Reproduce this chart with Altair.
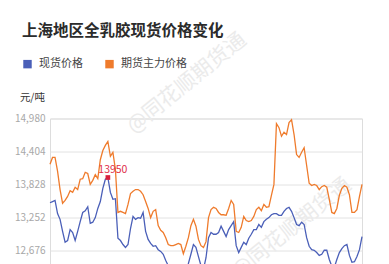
import altair as alt
import pandas as pd

title_text = "上海地区全乳胶现货价格变化"
unit_text = "元/吨"
series_names = ["现货价格", "期货主力价格"]
watermark_text = "@同花顺期货通"

spot = [13510, 13530, 13550, 13320, 13220, 13010, 12820, 12850, 13040, 12990,
        12850, 13010, 13180, 13340, 13370, 13440, 13150, 13170, 13250, 13410,
        13530, 13760, 13920, 13950, 13690, 13570, 13580, 12890, 12850, 12780,
        12730, 12780, 13060, 13270, 13220, 13250, 13240, 13340, 13010, 12870,
        12800, 12750, 12760, 12690, 12660, 12610, 12500, 12410, 12350, 12290,
        12260, 12310, 12240, 12200, 12310, 12450, 12610, 12780, 12730, 12570,
        12410, 12350, 12550, 12900, 12990, 12960, 12960, 12990, 13100, 13010,
        12920, 13040, 13110, 13180, 12760, 12640, 12730, 12820, 12780, 12890,
        12960, 13040, 13040, 13130, 13080, 13180, 13220, 13250, 13300, 13320,
        13320, 13290, 13290, 13360, 13410, 13430, 13360, 13250, 13130, 13110,
        13170, 13130, 12900, 12750, 12690, 12680, 12640, 12590, 12610, 12680,
        12680, 12520, 12400, 12380, 12520, 12640, 12710, 12760, 12780, 12590,
        12470, 12480, 12570, 12690, 12920]

futures = [14180, 14300, 14300, 14060, 13740, 13500, 13550, 13620, 13720, 13690,
           13780, 13740, 13920, 13930, 14040, 14020, 13830, 13900, 14000, 13930,
           14260, 14420, 14510, 14580, 14320, 14390, 14090, 13340, 13360, 13340,
           13320, 13480, 13670, 13710, 13740, 13740, 13710, 13650, 13530, 13410,
           13250, 13360, 13390, 13110, 13030, 12990, 12900, 12780, 12760, 12760,
           12780, 12800, 12780, 12620, 12750, 12900, 13110, 13220, 13100, 12870,
           12760, 12730, 12830, 13250, 13390, 13430, 13410, 13340, 13300, 13300,
           13290, 13410, 13550, 13480, 13010, 12990, 13080, 13270, 13200, 13180,
           13200, 13270, 13390, 13430, 13370, 13480, 13430, 13440, 13640, 13830,
           14890, 14820, 14670, 14740, 14700, 14910, 14960, 14700, 14350, 14300,
           14390, 14470, 14160, 13850, 13810, 13830, 13810, 13740, 13790, 13810,
           13780, 13570, 13340, 13320, 13410, 13640, 13760, 13810, 13780, 13650,
           13340, 13340, 13390, 13620, 13830]

y_ticks = [12100, 12676, 13252, 13828, 14404, 14980]
peak_index = [23]
peak_value = [13950]
peak_label = ["13950"]

FONT = "Noto Sans CJK SC"
BLUE = "#4a5fb8"
ORANGE = "#ef7b2c"

n = len(spot)
df = pd.DataFrame({
    "idx": list(range(n)) * 2,
    "value": spot + futures,
    "series": [series_names[0]] * n + [series_names[1]] * n,
})

x_scale = alt.Scale(domain=[0, n - 1], nice=False, zero=False)
y_scale = alt.Scale(domain=[y_ticks[0], y_ticks[-1]], nice=False, zero=False)
y_axis = alt.Axis(values=y_ticks, format=",.0f", title=None, grid=True,
                  domain=False, ticks=False, labelColor="#a8a8a8",
                  labelFontSize=10, labelPadding=5, gridColor="#e2e2e2",
                  labelFont=FONT)


def xy():
    return dict(x=alt.X("idx:Q", scale=x_scale, axis=None),
                y=alt.Y("value:Q", scale=y_scale, axis=y_axis))


lines = alt.Chart(df).mark_line(strokeWidth=1.3).encode(
    **xy(),
    color=alt.Color("series:N",
                    scale=alt.Scale(domain=series_names, range=[BLUE, ORANGE]),
                    sort=series_names,
                    legend=alt.Legend(title=None, orient="none", legendX=-28, legendY=-60,
                                      direction="horizontal", symbolType="square",
                                      symbolSize=6, symbolStrokeWidth=6,
                                      labelFontSize=11, labelColor="#444",
                                      labelFont=FONT, columnPadding=13,
                                      labelOffset=6, symbolOpacity=1)),
)

peak_df = pd.DataFrame({"idx": peak_index, "value": peak_value, "label": peak_label})
peak_pt = alt.Chart(peak_df).mark_square(size=22, color="#d81e3c", opacity=1).encode(**xy())
peak_txt = alt.Chart(peak_df).mark_text(fontSize=10.5, color="#e0304a", dx=5, dy=-8,
                                        font=FONT).encode(**xy(), text="label:N")

title_mark = alt.Chart(pd.DataFrame({"t": [title_text]})).mark_text(
    align="left", baseline="middle", fontSize=15.5, fontWeight="bold",
    color="#2b2b2b", font=FONT).encode(x=alt.value(-28), y=alt.value(-88), text="t:N")

unit_mark = alt.Chart(pd.DataFrame({"t": [unit_text]})).mark_text(
    align="right", baseline="middle", fontSize=10.5, color="#333",
    font=FONT).encode(x=alt.value(-5), y=alt.value(-21), text="t:N")

wm_df = pd.DataFrame({"t": [watermark_text]})
wm1 = alt.Chart(wm_df).mark_text(angle=321, fontSize=21, color="#ebebeb",
                                 font=FONT).encode(x=alt.value(137), y=alt.value(-35), text="t:N")
wm2 = alt.Chart(wm_df).mark_text(angle=321, fontSize=21, color="#ebebeb",
                                 font=FONT).encode(x=alt.value(242), y=alt.value(110), text="t:N")

chart = alt.layer(wm1, wm2, lines, peak_pt, peak_txt, title_mark, unit_mark).properties(
    width=312, height=165,
    padding={"left": 50, "top": 118.5, "right": 27, "bottom": 30},
    autosize=alt.AutoSizeParams(type="none"),
    background="white",
).configure_view(stroke=None).configure(font=FONT)

chart.save("out.html", embed_options={"renderer": "svg", "actions": False})
